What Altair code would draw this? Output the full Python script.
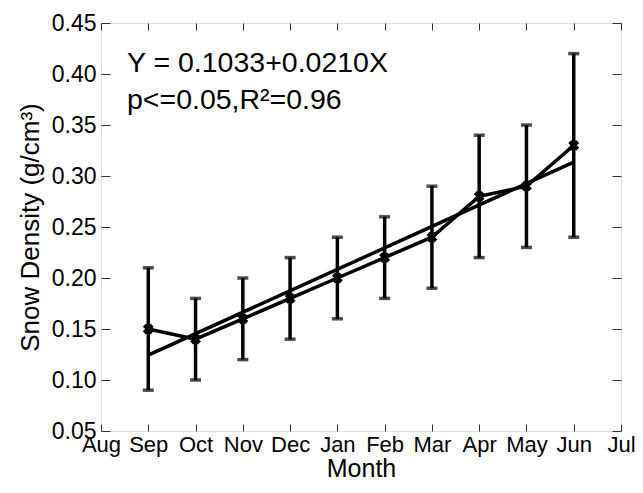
import altair as alt
import pandas as pd

# ---- data ----
months = ["Aug", "Sep", "Oct", "Nov", "Dec", "Jan", "Feb", "Mar", "Apr", "May", "Jun", "Jul"]
month_index = [1, 2, 3, 4, 5, 6, 7, 8, 9, 10]
density = [0.15, 0.14, 0.16, 0.18, 0.20, 0.22, 0.24, 0.28, 0.29, 0.33]
err_low = [0.09, 0.10, 0.12, 0.14, 0.16, 0.18, 0.19, 0.22, 0.23, 0.24]
err_high = [0.21, 0.18, 0.20, 0.22, 0.24, 0.26, 0.29, 0.34, 0.35, 0.42]
y_ticks = [0.05, 0.10, 0.15, 0.20, 0.25, 0.30, 0.35, 0.40, 0.45]
annot_lines = ["Y = 0.1033+0.0210X", "p<=0.05,R\u00b2=0.96"]
annot_x = [0.55, 0.55]
annot_y = [0.411, 0.375]

df = pd.DataFrame({"m": month_index, "d": density, "lo": err_low, "hi": err_high})
ann = pd.DataFrame({"t": annot_lines, "x": annot_x, "y": annot_y})

FONT = "Liberation Sans"
TC = "#333333"
label_expr = "[" + ",".join("'%s'" % m for m in months) + "][datum.value]"

xs = alt.Scale(domain=[0, 11], nice=False, zero=False)
ys = alt.Scale(domain=[0.05, 0.45], nice=False, zero=False)

x_bottom = alt.Axis(orient="bottom", values=list(range(12)), labelExpr=label_expr,
                    domain=False, grid=False, offset=-7, tickSize=7, tickColor=TC,
                    labelFontSize=22, labelFont=FONT, labelColor="black", labelPadding=3,
                    title="Month", titleFontSize=25, titleFont=FONT, titleFontWeight="normal",
                    titleColor="black", titlePadding=1, labelFlush=False, labelOverlap=False)
x_top = alt.Axis(orient="top", values=list(range(12)), labels=False, title=None,
                 domain=False, grid=False, offset=-7, tickSize=7, tickColor=TC)
y_left = alt.Axis(orient="left", values=y_ticks, format=".2f",
                  domain=False, grid=False, offset=-9, tickSize=9, tickColor=TC,
                  labelFontSize=23, labelFont=FONT, labelColor="black", labelPadding=5,
                  title="Snow Density (g/cm\u00b3)", titleFontSize=26, titleFont=FONT,
                  titleFontWeight="normal", titleColor="black", titlePadding=8,
                  labelFlush=False, labelOverlap=False)
y_right = alt.Axis(orient="right", values=y_ticks, labels=False, title=None,
                   domain=False, grid=False, offset=-9, tickSize=9, tickColor=TC)

base = alt.Chart(df)

bars = base.mark_rule(color="black", strokeWidth=3.5).encode(
    x=alt.X("m:Q", scale=xs, axis=x_bottom),
    y=alt.Y("lo:Q", scale=ys, axis=y_left),
    y2="hi:Q",
)
cap_lo = base.mark_tick(orient="horizontal", color="black", size=11, thickness=3.5).encode(
    x=alt.X("m:Q", scale=xs, axis=x_top),
    y=alt.Y("lo:Q", scale=ys, axis=y_right),
)
cap_hi = base.mark_tick(orient="horizontal", color="black", size=11, thickness=3.5).encode(
    x=alt.X("m:Q", scale=xs, axis=None),
    y=alt.Y("hi:Q", scale=ys, axis=None),
)
line = base.mark_line(color="black", strokeWidth=3.5).encode(
    x=alt.X("m:Q", scale=xs, axis=None),
    y=alt.Y("d:Q", scale=ys, axis=None),
)
pts = base.mark_point(shape="cross", angle=45, filled=True, color="black", size=120, opacity=1).encode(
    x=alt.X("m:Q", scale=xs, axis=None),
    y=alt.Y("d:Q", scale=ys, axis=None),
)
fit = base.transform_regression("m", "d", method="linear", extent=[1, 10]).mark_line(
    color="black", strokeWidth=3.5).encode(
    x=alt.X("m:Q", scale=xs, axis=None),
    y=alt.Y("d:Q", scale=ys, axis=None),
)
text = alt.Chart(ann).mark_text(align="left", baseline="middle", font=FONT, fontSize=28.5,
                                color="black").encode(
    x=alt.X("x:Q", scale=xs, axis=None),
    y=alt.Y("y:Q", scale=ys, axis=None),
    text="t:N",
)

chart = alt.layer(bars, cap_lo, cap_hi, line, pts, fit, text).resolve_axis(
    x="independent", y="independent"
).properties(
    width=520, height=408,
    autosize=alt.AutoSizeParams(type="none"),
    padding={"left": 93, "top": 15, "right": 14, "bottom": 54},
).configure_view(stroke=TC, strokeWidth=1.2).configure(background="white")

chart.save("out.html", embed_options={"renderer": "svg", "actions": False})
